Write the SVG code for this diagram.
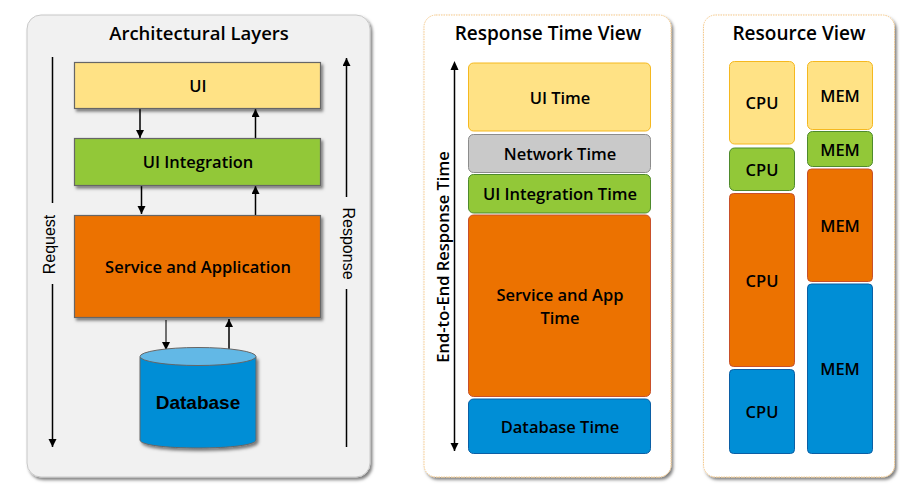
<svg xmlns="http://www.w3.org/2000/svg" width="919" height="491" viewBox="0 0 919 491">
<style>
text{font-family:"Open Sans","Noto Sans","Liberation Sans",sans-serif;font-weight:600;fill:#000;text-anchor:middle}
.t{font-size:18.5px}
.t2{font-size:19px}
.l{font-size:16.5px}
.a{font-family:"Liberation Sans",Arial,sans-serif;font-weight:400;font-size:16px}
.c{stroke:#000;stroke-width:1.5;fill:none}
.s{filter:url(#sh)}
.y{fill:#FFE285}.g{fill:#92C838}.o{fill:#EC7200}.b{fill:#008ED6}.n{fill:#C9C9C9}
.sq{stroke:#666;stroke-width:1.2}
.yr{stroke:#F5B81F;stroke-width:1}.gr{stroke:#4E8A2C;stroke-width:1}.or{stroke:#C8502A;stroke-width:1}.br{stroke:#0B5FA5;stroke-width:1}.nr{stroke:#8C8C8C;stroke-width:1}
.p{fill:#fff;stroke:#F5C98A;stroke-width:1;stroke-dasharray:1.5 1}
</style>
<defs>
<filter id="sh" x="-10%" y="-10%" width="125%" height="125%"><feDropShadow dx="2" dy="2.500" stdDeviation="1.600" flood-color="#000" flood-opacity="0.5"/></filter>
<marker id="ah" markerUnits="userSpaceOnUse" markerWidth="9" markerHeight="9" refX="8" refY="4" orient="auto"><path d="M0 0L8 4L0 8Z" fill="#000"/></marker>
</defs>
<rect width="919" height="491" fill="#fff"/>

<g id="panel-layers"><rect class="s" x="27" y="15" width="343" height="462" rx="14" fill="#F1F1F1" stroke="#C8C8C8" stroke-width="1"/><text class="t" x="199" y="39.500">Architectural Layers</text></g>
<g id="panel-response"><rect class="p s" x="424" y="15" width="247" height="462" rx="12"/><text class="t2" x="548" y="39.500">Response Time View</text></g>
<g id="panel-resource"><rect class="p s" x="703.500" y="15" width="191" height="462" rx="12"/><text class="t2" x="799" y="39.500">Resource View</text></g>

<g id="connectors">
<path class="c" d="M52.500 57V203"/><path class="c" marker-end="url(#ah)" d="M52.500 284V447"/>
<path class="c" marker-end="url(#ah)" d="M346.500 197V58"/><path class="c" d="M346.500 289V447"/>
<path class="c" marker-end="url(#ah)" d="M140 108V138"/><path class="c" marker-end="url(#ah)" d="M255.500 138V109"/>
<path class="c" marker-end="url(#ah)" d="M141.500 183V214"/><path class="c" marker-end="url(#ah)" d="M255.500 215V186"/>
<path class="c" marker-end="url(#ah)" style="stroke:#444" d="M166 320V350"/><path class="c" marker-end="url(#ah)" d="M229 349V319"/>
<path class="c" marker-end="url(#ah)" d="M454.500 70V451"/>
<path d="M454.500 61L450.500 70H458.500Z" fill="#000"/>
</g>

<g id="ui"><rect class="y sq s" x="74.500" y="62.500" width="246" height="46"/><text class="l" x="198" y="92">UI</text></g>
<g id="ui-integration"><rect class="g sq s" x="74.500" y="138.500" width="246" height="47"/><text class="l" x="198" y="168">UI Integration</text></g>
<g id="service"><rect class="o sq s" x="74.500" y="215.500" width="246" height="102"/><text class="l" x="198" y="273">Service and Application</text></g>
<g id="database">
<path class="b s" stroke="#666" stroke-width="1" d="M140 357V440C140 445 166 448 198 448S256 445 256 440V357Z"/>
<ellipse cx="198" cy="356.500" rx="58" ry="9" fill="#62B8E6" stroke="#666" stroke-width="1"/>
<text x="198" y="408.500" style="font-family:'Liberation Sans',Arial,sans-serif;font-weight:700;font-size:19px">Database</text>
</g>

<text class="a" transform="translate(55 244.500) rotate(-90)">Request</text>
<text class="a" transform="translate(343 243.500) rotate(90)">Response</text>
<text class="l" transform="translate(449 257) rotate(-90)">End-to-End Response Time</text>

<g id="ui-time"><rect class="y yr" x="468.500" y="63" width="182" height="68" rx="5"/><text class="l" x="560" y="104">UI Time</text></g>
<g id="network-time"><rect class="n nr" x="468.500" y="134.500" width="182" height="38" rx="5"/><text class="l" x="560" y="160">Network Time</text></g>
<g id="ui-integration-time"><rect class="g gr" x="468.500" y="174.500" width="182" height="38.500" rx="5"/><text class="l" x="560" y="200">UI Integration Time</text></g>
<g id="service-time"><rect class="o or" x="468.500" y="215" width="182" height="181.500" rx="5"/><text class="l" x="560" y="301">Service and App</text><text class="l" x="560" y="324">Time</text></g>
<g id="database-time"><rect class="b br" x="468.500" y="399" width="182" height="54.500" rx="5"/><text class="l" x="560" y="433">Database Time</text></g>

<g id="cpu-1"><rect class="y yr" x="729.500" y="61.500" width="65" height="82.500" rx="5"/><text class="l" x="762" y="109">CPU</text></g>
<g id="cpu-2"><rect class="g gr" x="729.500" y="148" width="65" height="42.500" rx="5"/><text class="l" x="762" y="176">CPU</text></g>
<g id="cpu-3"><rect class="o or" x="729.500" y="193.500" width="65" height="173" rx="4"/><text class="l" x="762" y="287">CPU</text></g>
<g id="cpu-4"><rect class="b br" x="729.500" y="369.500" width="65" height="84" rx="4"/><text class="l" x="762" y="418">CPU</text></g>
<g id="mem-1"><rect class="y yr" x="807.500" y="61.500" width="65" height="68" rx="5"/><text class="l" x="840" y="102">MEM</text></g>
<g id="mem-2"><rect class="g gr" x="807.500" y="131.500" width="65" height="35" rx="5"/><text class="l" x="840" y="156">MEM</text></g>
<g id="mem-3"><rect class="o or" x="807.500" y="169" width="65" height="112.500" rx="4"/><text class="l" x="840" y="232">MEM</text></g>
<g id="mem-4"><rect class="b br" x="807.500" y="284" width="65" height="169.500" rx="4"/><text class="l" x="840" y="375">MEM</text></g>
</svg>
